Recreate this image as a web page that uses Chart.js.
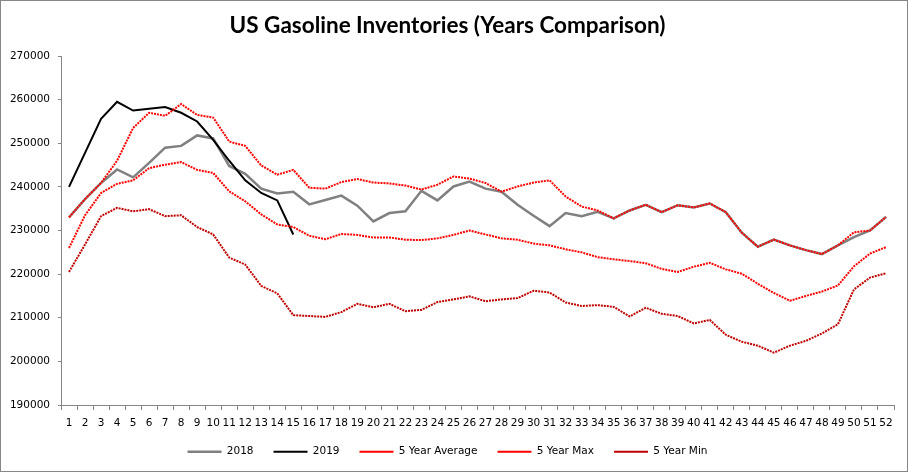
<!DOCTYPE html>
<html>
<head>
<meta charset="utf-8">
<script src="https://cdn.jsdelivr.net/npm/chart.js"></script>
<style>
  html, body { margin: 0; padding: 0; background: #fff; }
  #wrap { width: 906px; height: 470px; border: 1px solid #868686; position: relative; }
</style>
</head>
<body>
<div id="wrap"><canvas id="line-chart"></canvas></div>
<script>
// week numbers on the x axis
var weeks = [];
for (var w = 1; w <= 52; w++) weeks.push(String(w));

var y2018 = [233000,237200,240900,244000,242200,245500,249000,249400,251800,251100,
             244800,243000,239600,238500,238900,236000,237000,238000,235700,232100,
             234000,234400,239100,236900,240100,241200,239600,238900,235900,233400,
             231000,234000,233300,234300,232800,234600,235900,234200,235800,235300,
             236200,234200,229500,226300,227900,226600,225500,224600,226600,228500,
             230000,233100];

var y2019 = [240000,247800,255600,259500,257500,257900,258300,257000,255000,250800,
             246000,241500,238600,236900,229100];

var avg5 = [226000,233500,238600,240700,241500,244300,245100,245700,243900,243200,
            239000,236700,233700,231400,230800,228800,228000,229200,229000,228400,
            228400,227900,227800,228200,229000,230000,229100,228200,227900,227000,
            226600,225700,225000,223900,223400,223000,222500,221200,220500,221700,
            222600,221100,220100,217800,215700,213900,215000,216000,217400,221800,
            224700,226200];

var max5 = [233000,237200,240900,246000,253500,257000,256300,259000,256500,255900,
            250400,249400,244900,242800,243900,239800,239600,241100,241800,241000,
            240800,240300,239400,240500,242400,241900,240900,238900,240100,241000,
            241500,237800,235500,234600,232800,234600,235900,234200,235800,235300,
            236200,234200,229500,226300,227900,226600,225500,224600,226600,229600,
            230000,233100];

var min5 = [220500,226800,233300,235200,234400,234900,233300,233500,230800,229100,
            223800,222200,217300,215600,210600,210400,210200,211300,213200,212400,
            213200,211500,211800,213600,214200,214900,213800,214200,214500,216200,
            215800,213500,212700,212900,212500,210300,212300,210900,210400,208700,
            209500,206100,204500,203600,202000,203600,204700,206400,208500,216500,
            219200,220200];

var yMin = 190000, yMax = 270000, yStep = 10000;

var tickFont = { family: "'DejaVu Sans', sans-serif", size: 10.5 };
var axisGray = '#868686';

new Chart(document.getElementById("line-chart"), {
    type: 'line',
    data: {
        labels: weeks,
        datasets: [{
            label: "2018",
            data: y2018,
            borderColor: "#808080",
            borderWidth: 2.5,
            order: 3
        }, {
            label: "2019",
            data: y2019,
            borderColor: "#000000",
            borderWidth: 2,
            order: 2
        }, {
            label: "5 Year Average",
            data: avg5,
            borderColor: "#ff0000",
            borderWidth: 2,
            borderDash: [2, 1],
            order: 1
        }, {
            label: "5 Year Max",
            data: max5,
            borderColor: "#ff0000",
            borderWidth: 2,
            borderDash: [2, 1],
            order: 1
        }, {
            label: "5 Year Min",
            data: min5,
            borderColor: "#c00000",
            borderWidth: 2,
            borderDash: [2, 1],
            order: 1
        }]
    },
    options: {
        responsive: true,
        maintainAspectRatio: false,
        animation: false,
        events: [],
        elements: {
            point: { radius: 0 },
            line: { tension: 0, fill: false }
        },
        layout: { padding: { left: 0, right: 13, top: 0, bottom: 4 } },
        plugins: {
            title: {
                display: true,
                text: 'US Gasoline Inventories (Years Comparison)',
                color: '#000',
                font: { family: "Lato, 'Open Sans', sans-serif", size: 22.5, weight: 'bold', lineHeight: 1.1 },
                padding: { top: 12, bottom: 18.3 }
            },
            legend: {
                position: 'bottom',
                labels: {
                    usePointStyle: true,
                    pointStyle: 'line',
                    pointStyleWidth: 34,
                    padding: 20,
                    color: '#000',
                    font: tickFont,
                    sort: function (a, b) { return a.datasetIndex - b.datasetIndex; }
                }
            },
            tooltip: { enabled: false }
        },
        scales: {
            x: {
                offset: true,
                grid: { drawOnChartArea: false, tickLength: 5, color: axisGray, offset: true },
                border: { color: axisGray },
                ticks: { autoSkip: false, maxRotation: 0, minRotation: 0, padding: 7, color: '#000', font: tickFont },
                afterFit: function (scale) { scale.height = 21.5; }
            },
            y: {
                min: yMin,
                max: yMax,
                grid: { drawOnChartArea: false, tickLength: 3, color: axisGray },
                border: { color: axisGray },
                ticks: {
                    stepSize: yStep, padding: 8, color: '#000', font: tickFont,
                    callback: function (v) { return String(v); }
                },
                afterFit: function (scale) { scale.width = 60; }
            }
        }
    }
});
</script>
</body>
</html>
